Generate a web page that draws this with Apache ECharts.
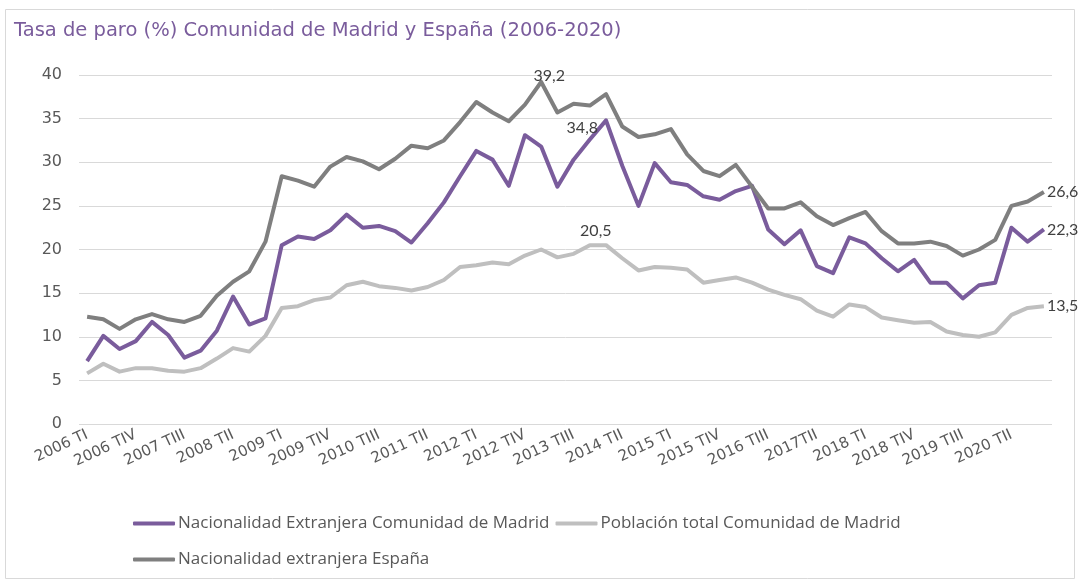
<!DOCTYPE html>
<html>
<head>
<meta charset="utf-8">
<script src="https://cdn.jsdelivr.net/npm/echarts@6/dist/echarts.min.js"></script>
<style>
    html, body { margin: 0; padding: 0; background: #fff; }
    #main { width: 1081px; height: 580px; }
</style>
</head>
<body>
<div id="main"></div>
<script>
// trimestres 2006 TI - 2020 TIV
var categories = [
    '2006 TI', '2006 TII', '2006 TIII', '2006 TIV',
    '2007 TI', '2007 TII', '2007 TIII', '2007 TIV',
    '2008 TI', '2008 TII', '2008 TIII', '2008 TIV',
    '2009 TI', '2009 TII', '2009 TIII', '2009 TIV',
    '2010 TI', '2010 TII', '2010 TIII', '2010 TIV',
    '2011 TI', '2011 TII', '2011 TIII', '2011 TIV',
    '2012 TI', '2012 TII', '2012 TIII', '2012 TIV',
    '2013 TI', '2013 TII', '2013 TIII', '2013 TIV',
    '2014 TI', '2014 TII', '2014 TIII', '2014 TIV',
    '2015 TI', '2015 TII', '2015 TIII', '2015 TIV',
    '2016 TI', '2016 TII', '2016 TIII', '2016 TIV',
    '2017 TI', '2017TII', '2017 TIII', '2017 TIV',
    '2018 TI', '2018 TII', '2018 TIII', '2018 TIV',
    '2019 TI', '2019 TII', '2019 TIII', '2019 TIV',
    '2020 TI', '2020 TII', '2020 TIII', '2020 TIV'
];

var extranjeraMadrid = [
    7.2, 10.1, 8.6, 9.5, 11.7, 10.2, 7.6, 8.4, 10.7, 14.6,
    11.4, 12.1, 20.5, 21.5, 21.2, 22.2, 24.0, 22.5, 22.7, 22.1,
    20.8, 23.0, 25.4, 28.4, 31.3, 30.3, 27.3, 33.1, 31.8, 27.2,
    30.3, 32.6, 34.8, 29.6, 25.0, 29.9, 27.7, 27.4, 26.1, 25.7,
    26.7, 27.3, 22.3, 20.6, 22.2, 18.1, 17.3, 21.4, 20.7, 19.0,
    17.5, 18.8, 16.2, 16.2, 14.4, 15.9, 16.2, 22.5, 20.9, 22.3
];

var totalMadrid = [
    5.8, 6.9, 6.0, 6.4, 6.4, 6.1, 6.0, 6.4, 7.5, 8.7,
    8.3, 10.1, 13.3, 13.5, 14.2, 14.5, 15.9, 16.3, 15.8, 15.6,
    15.3, 15.7, 16.5, 18.0, 18.2, 18.5, 18.3, 19.3, 20.0, 19.1,
    19.5, 20.5, 20.5, 19.0, 17.6, 18.0, 17.9, 17.7, 16.2, 16.5,
    16.8, 16.2, 15.4, 14.8, 14.3, 13.0, 12.3, 13.7, 13.4, 12.2,
    11.9, 11.6, 11.7, 10.6, 10.2, 10.0, 10.5, 12.5, 13.3, 13.5
];

var extranjeraEspana = [
    12.3, 12.0, 10.9, 12.0, 12.6, 12.0, 11.7, 12.4, 14.7, 16.3,
    17.5, 20.9, 28.4, 27.9, 27.2, 29.5, 30.6, 30.1, 29.2, 30.4,
    31.9, 31.6, 32.5, 34.6, 36.9, 35.7, 34.7, 36.6, 39.2, 35.7,
    36.7, 36.5, 37.8, 34.1, 32.9, 33.2, 33.8, 30.9, 29.0, 28.4,
    29.7, 27.2, 24.7, 24.7, 25.4, 23.8, 22.8, 23.6, 24.3, 22.1,
    20.7, 20.7, 20.9, 20.4, 19.3, 20.0, 21.1, 25.0, 25.5, 26.6
];

var seriesNames = [
    'Nacionalidad Extranjera Comunidad de Madrid',
    'Población total Comunidad de Madrid',
    'Nacionalidad extranjera España'
];

(function() {
    var myChart = echarts.init(document.getElementById('main'));

    var labelFont = {
        fontFamily: 'Lato',
        fontSize: 16,
        color: '#404040',
        formatter: function(p) {
            return p.value.toFixed(1).replace('.', ',');
        }
    };

    // 只在几个点上显示数值
    function withLabels(values, marks) {
        return values.map(function(v, i) {
            if (marks[i]) {
                return { value: v, label: Object.assign({ show: true }, labelFont, marks[i]) };
            }
            return v;
        });
    }

    var last = categories.length - 1;
    var m1 = {}; m1[32] = { position: 'left', distance: 8, offset: [0, 7] }; m1[last] = { position: 'right', distance: 3 };
    var m2 = {}; m2[31] = { position: 'top', distance: 6, offset: [6, 0] }; m2[last] = { position: 'right', distance: 3 };
    var m3 = {}; m3[28] = { position: 'top', distance: -2, offset: [8, 0] }; m3[last] = { position: 'right', distance: 3 };

    var colors = ['#7a5c9c', '#bfbfbf', '#7f7f7f'];

    function lineSeries(idx, values, marks, z) {
        return {
            name: seriesNames[idx],
            type: 'line',
            data: withLabels(values, marks),
            symbol: 'circle',
            symbolSize: 0,
            showSymbol: true,
            showAllSymbol: true,
            itemStyle: { color: colors[idx] },
            lineStyle: { width: 4, color: colors[idx], join: 'round' },
            z: z
        };
    }

    var legendText = { fontFamily: 'Open Sans', fontSize: 17, color: '#595959', padding: [0, 0, 0, -2] };

    var option = {
        color: colors,
        animation: false,
        title: {
            text: 'Tasa de paro (%) Comunidad de Madrid y España (2006-2020)',
            left: 9,
            top: 16,
            textStyle: {
                fontFamily: 'DejaVu Sans',
                fontSize: 19.5,
                fontWeight: 'normal',
                color: '#7a5c9c'
            }
        },
        graphic: [{
            type: 'rect',
            shape: { x: 5.5, y: 9.5, width: 1069, height: 569 },
            style: { fill: 'none', stroke: '#d9d9d9', lineWidth: 1 },
            silent: true
        }],
        legend: [{
            data: [seriesNames[0], seriesNames[1]],
            left: 128,
            top: 510,
            itemWidth: 42,
            itemHeight: 4,
            itemGap: 6,
            icon: 'roundRect',
            textStyle: legendText
        }, {
            data: [seriesNames[2]],
            left: 128,
            top: 546,
            itemWidth: 42,
            itemHeight: 4,
            icon: 'roundRect',
            textStyle: legendText
        }],
        grid: {
            left: 79,
            right: 29,
            top: 75,
            bottom: 156,
            containLabel: false
        },
        xAxis: {
            type: 'category',
            data: categories,
            boundaryGap: true,
            axisLine: { show: false },
            axisTick: { show: false },
            axisLabel: {
                interval: 2,
                rotate: 25,
                margin: 10,
                fontFamily: 'DejaVu Sans',
                fontSize: 15,
                color: '#595959'
            }
        },
        yAxis: {
            type: 'value',
            min: 0,
            max: 40,
            interval: 5,
            axisLine: { show: false },
            axisTick: { show: false },
            axisLabel: {
                margin: 17,
                fontFamily: 'DejaVu Sans',
                fontSize: 16,
                color: '#595959'
            },
            splitLine: {
                lineStyle: { color: '#d9d9d9', width: 1 }
            }
        },
        series: [
            lineSeries(0, extranjeraMadrid, m1, 3),
            lineSeries(1, totalMadrid, m2, 2),
            lineSeries(2, extranjeraEspana, m3, 4)
        ]
    };

    myChart.setOption(option);
})();
</script>
</body>
</html>
